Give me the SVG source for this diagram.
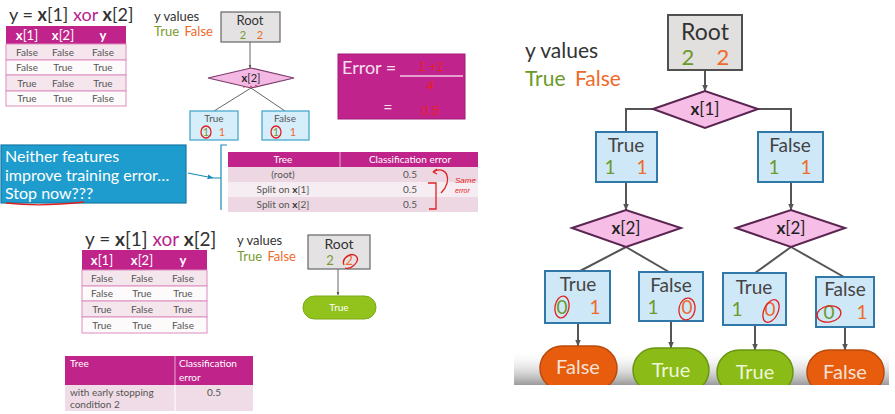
<svg xmlns="http://www.w3.org/2000/svg" width="895" height="414" viewBox="0 0 895 414">
<defs>
<style>
text{font-family:Lato,"Open Sans","Liberation Sans",sans-serif;}
.dk{fill:#333}
.g{fill:#7a9a30}
.o{fill:#ee6a2a}
.cell{font-size:10px;fill:#555;text-anchor:middle}
.hd{font-size:13px;fill:#fff;text-anchor:middle}
.mag{fill:#c0238a}
.pk1{fill:#f5e6ee;stroke:#dc8ebe;stroke-width:1}
.pk2{fill:#fdfafb;stroke:#dc8ebe;stroke-width:1}
.root{fill:#e4e2e2;stroke:#666;stroke-width:1.2}
.rootb{fill:#e2dfdf;stroke:#505050;stroke-width:2}
.dia{fill:#f4b8e4;stroke:#7a3a6a;stroke-width:1.2}
.diab{fill:#f6bde6;stroke:#5a2550;stroke-width:2}
.leaf{fill:#d6eefa;stroke:#3aa2c8;stroke-width:1.2}
.leafb{fill:#cfe8f7;stroke:#2f78a8;stroke-width:2}
.ln{fill:none;stroke:#666;stroke-width:1}
.lnb{fill:none;stroke:#555;stroke-width:2}
.red{fill:none;stroke:#e02020;stroke-width:1.3}
.rt{fill:#e82020;font-family:"Liberation Sans",sans-serif;font-style:italic}
.mid{text-anchor:middle}
.pillF{fill:#e85c0e;stroke:#b94a0c;stroke-width:1.5}
.pillT{fill:#8bbb16;stroke:#6a9512;stroke-width:1.5}
</style>
<marker id="ahb" viewBox="0 0 10 10" refX="9" refY="5" markerWidth="3.5" markerHeight="3.5" orient="auto"><path d="M0,1 L10,5 L0,9 z" fill="#555"/></marker>
<marker id="ahc" viewBox="0 0 10 10" refX="9" refY="5" markerWidth="5" markerHeight="5" orient="auto"><path d="M0,1 L10,5 L0,9 z" fill="#1a8ab8"/></marker>
<linearGradient id="shade" x1="0" y1="0" x2="0" y2="1"><stop offset="0" stop-color="#ffffff" stop-opacity="0"/><stop offset="1" stop-color="#9a9a9a"/></linearGradient>
<clipPath id="frame"><rect x="514" y="0" width="375" height="385"/></clipPath>
</defs>
<rect width="895" height="414" fill="#fff"/>

<!-- top-left xor table -->
<g id="xor-table-top">
<text x="9" y="21" font-size="18" class="dk">y = <tspan font-weight="bold">x</tspan>[1] <tspan fill="#b8238c">xor</tspan> <tspan font-weight="bold">x</tspan>[2]</text>
<rect x="6" y="26" width="120" height="18" class="mag"/>
<text x="27" y="40" class="hd"><tspan font-weight="bold">x</tspan>[1]</text>
<text x="63" y="40" class="hd"><tspan font-weight="bold">x</tspan>[2]</text>
<text x="103" y="40" class="hd" font-weight="bold">y</text>
<rect x="6" y="44" width="120" height="16" class="pk1"/>
<rect x="6" y="60" width="120" height="15" class="pk2"/>
<rect x="6" y="75" width="120" height="16" class="pk1"/>
<rect x="6" y="91" width="120" height="15" class="pk2"/>
<text x="27" y="56" class="cell">False</text><text x="63" y="56" class="cell">False</text><text x="103" y="56" class="cell">False</text>
<text x="27" y="71" class="cell">False</text><text x="63" y="71" class="cell">True</text><text x="103" y="71" class="cell">True</text>
<text x="27" y="87" class="cell">True</text><text x="63" y="87" class="cell">False</text><text x="103" y="87" class="cell">True</text>
<text x="27" y="102" class="cell">True</text><text x="63" y="102" class="cell">True</text><text x="103" y="102" class="cell">False</text>
</g>

<!-- top-middle tree -->
<g id="legend-top">
<text x="154" y="21" font-size="13" class="dk">y values</text>
<text x="154" y="36" font-size="13"><tspan class="g">True</tspan> <tspan class="o" dx="2">False</tspan></text>
</g>
<g id="connectors-top">
<line x1="250" y1="42" x2="250" y2="68" class="ln" marker-end="url(#ahb)"/>
<line x1="251" y1="88" x2="214" y2="111" class="ln"/>
<line x1="251" y1="88" x2="285" y2="111" class="ln"/>
</g>
<g id="root-top">
<rect x="221" y="12" width="59" height="30" class="root"/>
<text x="250" y="25" font-size="13" class="dk mid">Root</text>
<text x="243" y="39" font-size="11" class="g mid">2</text>
<text x="260" y="39" font-size="11" class="o mid">2</text>
</g>
<g id="split-x2-top">
<polygon points="208,78 251,68 294,78 251,88" class="dia"/>
<text x="251" y="82" font-size="11" class="mid" fill="#222"><tspan font-weight="bold">x</tspan>[2]</text>
<circle cx="244" cy="87" r="0.8" fill="#e02020"/><circle cx="251" cy="86.5" r="0.8" fill="#e02020"/><circle cx="256" cy="85.5" r="0.8" fill="#e02020"/>
</g>
<g id="true-top">
<rect x="190" y="111" width="48" height="29" class="leaf"/>
<text x="214" y="122" font-size="10" class="mid" fill="#555">True</text>
<text x="206" y="136" font-size="11" class="g mid">1</text>
<text x="222" y="136" font-size="11" class="o mid">1</text>
<ellipse cx="206" cy="132" rx="5" ry="6" class="red"/>
</g>
<g id="false-top">
<rect x="262" y="111" width="47" height="29" class="leaf"/>
<text x="285" y="122" font-size="10" class="mid" fill="#555">False</text>
<text x="276" y="136" font-size="11" class="g mid">1</text>
<text x="293" y="136" font-size="11" class="o mid">1</text>
<ellipse cx="276" cy="132" rx="5" ry="6" class="red"/>
</g>

<!-- error box -->
<g id="error-box">
<rect x="338" y="54" width="127" height="65" fill="#c0248c" stroke="#a01a76" stroke-width="1"/>
<text x="342" y="74" font-size="18" fill="#f6e0f0">Error =</text>
<line x1="400" y1="76" x2="463" y2="76" stroke="#f0c8e6" stroke-width="1.5"/>
<text x="431" y="71" font-size="13" class="rt mid">1 +1</text>
<text x="430" y="90" font-size="13" class="rt mid">4</text>
<text x="388" y="113" font-size="16" fill="#f6e0f0" class="mid">=</text>
<text x="430" y="115" font-size="13" class="rt mid">0.5</text>
</g>

<!-- blue callout -->
<g id="callout">
<rect x="1" y="145" width="185" height="58" fill="#1e9ccd" stroke="#1678a6" stroke-width="1.2"/>
<text x="5" y="162" font-size="16" fill="#fff">Neither features</text>
<text x="5" y="181" font-size="16" fill="#fff">improve training error…</text>
<text x="5" y="199" font-size="16" fill="#fff">Stop now???</text>
<path d="M6,203 Q40,207 84,202" class="red"/>
</g>
<g id="connectors-callout">
<line x1="188" y1="173" x2="213" y2="178" stroke="#1a8ab8" stroke-width="1.2" marker-end="url(#ahc)"/>
<path d="M213,178 H221 M227,145 H221 V210" fill="none" stroke="#1a8ab8" stroke-width="1.2"/>
</g>

<!-- classification error table -->
<g id="error-table">
<rect x="228" y="152" width="250" height="15" class="mag"/>
<line x1="340" y1="152" x2="340" y2="167" stroke="#e6a6d2" stroke-width="1"/>
<rect x="228" y="167" width="250" height="15" fill="#ecd7e2"/>
<rect x="228" y="182" width="250" height="15" fill="#f6edf2"/>
<rect x="228" y="197" width="250" height="15" fill="#ecd7e2"/>
<text x="283" y="163" font-size="10" fill="#fff" class="mid">Tree</text>
<text x="410" y="163" font-size="10" fill="#fff" class="mid">Classification error</text>
<text x="283" y="178" class="cell">(root)</text>
<text x="283" y="193" class="cell">Split on <tspan font-weight="bold" fill="#333">x</tspan>[1]</text>
<text x="283" y="208" class="cell">Split on <tspan font-weight="bold" fill="#333">x</tspan>[2]</text>
<text x="410" y="178" class="cell">0.5</text>
<text x="410" y="193" class="cell">0.5</text>
<text x="410" y="208" class="cell">0.5</text>
<path d="M433,172 C446,164 454,180 441,193" class="red"/>
<path d="M433,172 l4,-3 M433,172 l4,2" class="red"/>
<path d="M428,183 H436 V209 H429" class="red"/>
<text x="455" y="183" font-size="8" class="rt">Same</text>
<text x="455" y="193" font-size="7" class="rt">error</text>
</g>

<!-- bottom-left xor table -->
<g id="xor-table-bottom">
<text x="85" y="246" font-size="19" class="dk">y = <tspan font-weight="bold">x</tspan>[1] <tspan fill="#b8238c">xor</tspan> <tspan font-weight="bold">x</tspan>[2]</text>
<rect x="82" y="250" width="125" height="20" class="mag"/>
<text x="102" y="265" class="hd"><tspan font-weight="bold">x</tspan>[1]</text>
<text x="142" y="265" class="hd"><tspan font-weight="bold">x</tspan>[2]</text>
<text x="183" y="265" class="hd" font-weight="bold">y</text>
<rect x="82" y="270" width="125" height="16" class="pk1"/>
<rect x="82" y="286" width="125" height="15" class="pk2"/>
<rect x="82" y="301" width="125" height="16" class="pk1"/>
<rect x="82" y="317" width="125" height="16" class="pk2"/>
<text x="102" y="282" class="cell">False</text><text x="142" y="282" class="cell">False</text><text x="183" y="282" class="cell">False</text>
<text x="102" y="297" class="cell">False</text><text x="142" y="297" class="cell">True</text><text x="183" y="297" class="cell">True</text>
<text x="102" y="313" class="cell">True</text><text x="142" y="313" class="cell">False</text><text x="183" y="313" class="cell">True</text>
<text x="102" y="329" class="cell">True</text><text x="142" y="329" class="cell">True</text><text x="183" y="329" class="cell">False</text>
</g>

<!-- bottom-middle tree -->
<g id="legend-bottom">
<text x="237" y="245" font-size="13" class="dk">y values</text>
<text x="237" y="261" font-size="13"><tspan class="g">True</tspan> <tspan class="o" dx="2">False</tspan></text>
</g>
<g id="connectors-bottom">
<line x1="338" y1="269" x2="338" y2="295" class="ln" marker-end="url(#ahb)"/>
</g>
<g id="root-bottom">
<rect x="308" y="235" width="62" height="34" class="root"/>
<text x="339" y="249" font-size="14" class="dk mid">Root</text>
<text x="330" y="265" font-size="13" class="g mid">2</text>
<text x="349" y="265" font-size="13" class="o mid">2</text>
<path d="M344,265 C341,258 351,252 356,256 C361,261 351,270 345,268" class="red"/>
</g>
<g id="leaf-true-bottom">
<rect x="303" y="296" width="73" height="23" rx="11.5" fill="#92c21c" stroke="#78a818" stroke-width="1"/>
<text x="339" y="311" font-size="10" fill="#fff" class="mid">True</text>
</g>

<!-- bottom table -->
<g id="early-stop-table">
<rect x="65" y="356" width="188" height="29" class="mag"/>
<line x1="175" y1="356" x2="175" y2="385" stroke="#e6a6d2" stroke-width="1"/>
<rect x="65" y="385" width="188" height="26" fill="#f0dce6"/>
<line x1="175" y1="385" x2="175" y2="411" stroke="#fff" stroke-width="1"/>
<text x="70" y="367" font-size="10" fill="#fff">Tree</text>
<text x="179" y="367" font-size="10" fill="#fff">Classification</text>
<text x="179" y="381" font-size="10" fill="#fff">error</text>
<text x="70" y="396" font-size="10" fill="#555">with early stopping</text>
<text x="70" y="408" font-size="10" fill="#555">condition 2</text>
<text x="214" y="396" class="cell">0.5</text>
</g>

<!-- right frame -->
<g id="frame-shade">
<rect x="514" y="350" width="375" height="35" fill="url(#shade)"/>
</g>
<g id="legend-right">
<text x="525" y="58" font-size="21" fill="#333">y values</text>
<text x="525" y="86" font-size="21"><tspan fill="#6a9a2a">True</tspan> <tspan fill="#ee6a2a" dx="4">False</tspan></text>
</g>
<g id="connectors-right">
<line x1="705" y1="70" x2="705" y2="91" class="lnb" marker-end="url(#ahb)"/>
<polyline points="653,109 626,109 626,132" class="lnb"/>
<polyline points="758,109 791,109 791,132" class="lnb"/>
<line x1="626" y1="182" x2="626" y2="210" class="lnb" marker-end="url(#ahb)"/>
<line x1="791" y1="182" x2="791" y2="210" class="lnb" marker-end="url(#ahb)"/>
<line x1="626" y1="247" x2="580" y2="271" class="lnb"/>
<line x1="626" y1="247" x2="669" y2="272" class="lnb"/>
<line x1="791" y1="247" x2="755" y2="273" class="lnb"/>
<line x1="791" y1="247" x2="844" y2="277" class="lnb"/>
<line x1="578" y1="323" x2="578" y2="346" class="lnb" marker-end="url(#ahb)"/>
<line x1="671" y1="321" x2="671" y2="348" class="lnb" marker-end="url(#ahb)"/>
<line x1="755" y1="325" x2="755" y2="350" class="lnb" marker-end="url(#ahb)"/>
<line x1="845" y1="327" x2="845" y2="350" class="lnb" marker-end="url(#ahb)"/>
</g>
<g id="root-right">
<rect x="668" y="15" width="74" height="55" class="rootb"/>
<text x="705" y="40" font-size="23" fill="#333" class="mid">Root</text>
<text x="688" y="65" font-size="22" fill="#6a9a2a" class="mid">2</text>
<text x="723" y="65" font-size="22" fill="#ee6a2a" class="mid">2</text>
</g>
<g id="split-x1">
<polygon points="653,109 705,91 758,109 705,128" class="diab"/>
<text x="705" y="115" font-size="17" fill="#222" class="mid"><tspan font-weight="bold">x</tspan>[1]</text>
</g>
<g id="x1-true">
<rect x="596" y="132" width="61" height="50" class="leafb"/>
<text x="626" y="152" font-size="19" fill="#444" class="mid">True</text>
<text x="610" y="174" font-size="19" fill="#6a9a2a" class="mid">1</text>
<text x="642" y="174" font-size="19" fill="#ee6a2a" class="mid">1</text>
</g>
<g id="x1-false">
<rect x="758" y="132" width="65" height="50" class="leafb"/>
<text x="790" y="152" font-size="19" fill="#444" class="mid">False</text>
<text x="774" y="174" font-size="19" fill="#6a9a2a" class="mid">1</text>
<text x="806" y="174" font-size="19" fill="#ee6a2a" class="mid">1</text>
</g>
<g id="split-x2-left">
<polygon points="572,228 626,210 681,228 626,247" class="diab"/>
<text x="626" y="234" font-size="17" fill="#222" class="mid"><tspan font-weight="bold">x</tspan>[2]</text>
</g>
<g id="split-x2-right">
<polygon points="736,228 791,210 845,228 791,247" class="diab"/>
<text x="791" y="234" font-size="17" fill="#222" class="mid"><tspan font-weight="bold">x</tspan>[2]</text>
</g>
<g id="leaf-tt">
<rect x="545" y="271" width="65" height="52" class="leafb"/>
<text x="578" y="291" font-size="19" fill="#444" class="mid">True</text>
<text x="562" y="314" font-size="19" fill="#6a9a2a" class="mid">0</text>
<text x="595" y="314" font-size="19" fill="#ee6a2a" class="mid">1</text>
<ellipse cx="562" cy="307" rx="7" ry="11" transform="rotate(10 562 307)" class="red"/>
</g>
<g id="leaf-tf">
<rect x="639" y="272" width="64" height="49" class="leafb"/>
<text x="671" y="292" font-size="19" fill="#444" class="mid">False</text>
<text x="653" y="314" font-size="19" fill="#6a9a2a" class="mid">1</text>
<text x="687" y="314" font-size="19" fill="#ee6a2a" class="mid">0</text>
<ellipse cx="687" cy="309" rx="8" ry="11" transform="rotate(10 687 309)" class="red"/>
</g>
<g id="leaf-ft">
<rect x="723" y="273" width="63" height="52" class="leafb"/>
<text x="754" y="294" font-size="19" fill="#444" class="mid">True</text>
<text x="737" y="316" font-size="19" fill="#6a9a2a" class="mid">1</text>
<text x="770" y="316" font-size="19" fill="#ee6a2a" class="mid">0</text>
<ellipse cx="771" cy="311" rx="7" ry="12" transform="rotate(25 771 311)" class="red"/>
</g>
<g id="leaf-ff">
<rect x="816" y="277" width="58" height="50" class="leafb"/>
<text x="845" y="296" font-size="19" fill="#444" class="mid">False</text>
<text x="829" y="319" font-size="19" fill="#6a9a2a" class="mid">0</text>
<text x="862" y="319" font-size="19" fill="#ee6a2a" class="mid">1</text>
<ellipse cx="829" cy="314" rx="12" ry="8" transform="rotate(-10 829 314)" class="red"/>
</g>
<g clip-path="url(#frame)">
<g id="pred-false-1">
<rect x="540" y="346" width="77" height="44" rx="22" class="pillF"/>
<text x="578" y="374" font-size="20" fill="#f4e2d6" class="mid">False</text>
</g>
<g id="pred-true-1">
<rect x="633" y="348" width="76" height="44" rx="22" class="pillT"/>
<text x="671" y="377" font-size="20" fill="#eef6da" class="mid">True</text>
</g>
<g id="pred-true-2">
<rect x="717" y="350" width="76" height="44" rx="22" class="pillT"/>
<text x="755" y="379" font-size="20" fill="#eef6da" class="mid">True</text>
</g>
<g id="pred-false-2">
<rect x="807" y="350" width="77" height="44" rx="22" class="pillF"/>
<text x="845" y="379" font-size="20" fill="#f4e2d6" class="mid">False</text>
</g>
</g>
</svg>
